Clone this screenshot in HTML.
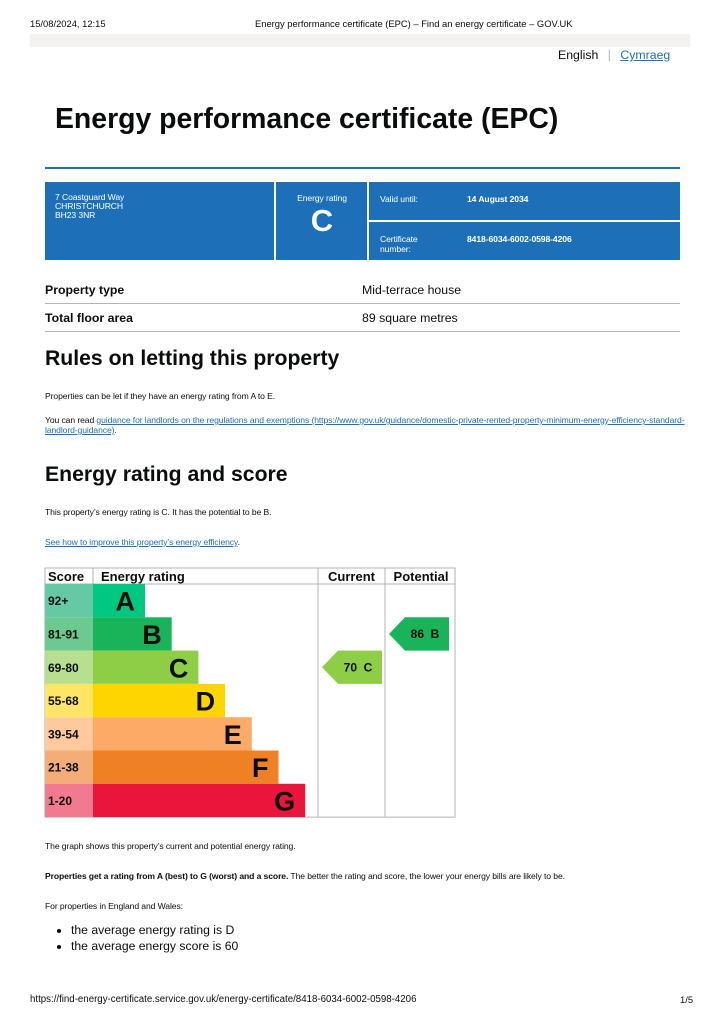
<!DOCTYPE html>
<html><head><meta charset="utf-8">
<style>
body{margin:0;width:724px;height:1024px;position:relative;background:#fff;font-family:"Liberation Sans",Arial,sans-serif;color:#0b0c0c;overflow:hidden}
.a{position:absolute;white-space:nowrap}
.s{font-size:8.6px;line-height:10px;letter-spacing:-0.1px}
a{color:#1d70b8}
</style></head><body>
<div class="a" style="left:30px;top:18px;font-size:9.4px">15/08/2024, 12:15</div>
<div class="a" style="left:255px;top:18px;font-size:9.4px">Energy performance certificate (EPC) – Find an energy certificate – GOV.UK</div>
<div class="a" style="left:30px;top:34px;width:660px;height:13px;background:#f3f2f1"></div>
<div class="a" style="left:558px;top:48px;font-size:12.3px">English <span style="color:#b1b4b6;margin:0 6px">|</span> <a href="#">Cymraeg</a></div>
<div class="a" style="left:55px;top:102px;font-size:28.4px;font-weight:bold;line-height:34px">Energy performance certificate (EPC)</div>
<div class="a" style="left:45px;top:167px;width:635px;height:2px;background:#1d70b8"></div>

<div class="a" style="left:45px;top:182px;width:635px;height:78px;background:#1d70b8;color:#fff">
 <div class="a s" style="left:10px;top:11px;line-height:9px">7 Coastguard Way<br>CHRISTCHURCH<br>BH23 3NR</div>
 <div class="a" style="left:229px;top:0;width:2px;height:78px;background:#fff"></div>
 <div class="a s" style="left:231px;width:92px;top:11px;text-align:center">Energy rating</div>
 <div class="a" style="left:231px;width:92px;top:21px;text-align:center;font-size:31px;font-weight:bold">C</div>
 <div class="a" style="left:322px;top:0;width:2px;height:78px;background:#fff"></div>
 <div class="a" style="left:324px;top:38px;width:311px;height:2px;background:#fff"></div>
 <div class="a s" style="left:335px;top:12px">Valid until:</div>
 <div class="a s" style="left:422px;top:12px;font-weight:bold">14 August 2034</div>
 <div class="a s" style="left:335px;top:52px">Certificate<br>number:</div>
 <div class="a s" style="left:422px;top:52px;font-weight:bold">8418-6034-6002-0598-4206</div>
</div>

<div class="a" style="left:45px;top:283px;font-size:12.3px;font-weight:bold">Property type</div>
<div class="a" style="left:362px;top:283px;font-size:12.3px">Mid-terrace house</div>
<div class="a" style="left:45px;top:303px;width:635px;height:1px;background:#b1b4b6"></div>
<div class="a" style="left:45px;top:311px;font-size:12.3px;font-weight:bold">Total floor area</div>
<div class="a" style="left:362px;top:311px;font-size:12.3px">89 square metres</div>
<div class="a" style="left:45px;top:331px;width:635px;height:1px;background:#b1b4b6"></div>

<div class="a" style="left:45px;top:347px;font-size:21.2px;font-weight:bold">Rules on letting this property</div>
<div class="a s" style="left:45px;top:391px">Properties can be let if they have an energy rating from A to E.</div>
<div class="a s" style="left:45px;top:415px;white-space:normal;width:645px">You can read <a href="#">guidance for landlords on the regulations and exemptions (https://www.gov.uk/guidance/domestic-private-rented-property-minimum-energy-efficiency-standard-landlord-guidance)</a>.</div>

<div class="a" style="left:45px;top:463px;font-size:21.2px;font-weight:bold">Energy rating and score</div>
<div class="a s" style="left:45px;top:507px">This property’s energy rating is C. It has the potential to be B.</div>
<div class="a s" style="left:45px;top:537px"><a href="#">See how to improve this property’s energy efficiency</a>.</div>

<svg class="a" style="left:0;top:0" width="724" height="1024" font-family="Liberation Sans, Arial, sans-serif">
<g id="chart"></g>
</svg>

<div class="a s" style="left:45px;top:841px">The graph shows this property’s current and potential energy rating.</div>
<div class="a s" style="left:45px;top:871px"><b>Properties get a rating from A (best) to G (worst) and a score.</b> The better the rating and score, the lower your energy bills are likely to be.</div>
<div class="a s" style="left:45px;top:901px">For properties in England and Wales:</div>
<ul class="a" style="left:30px;top:922px;margin:0;padding-left:41px;font-size:12.2px;line-height:16px">
<li>the average energy rating is D</li>
<li>the average energy score is 60</li>
</ul>
<div class="a" style="left:30px;top:994px;font-size:9.7px">https://find-energy-certificate.service.gov.uk/energy-certificate/8418-6034-6002-0598-4206</div>
<div class="a" style="left:680px;top:994px;font-size:9.4px">1/5</div>

<script>
const bands=["A","B","C","D","E","F","G"];
const scoreRanges=["92+","81-91","69-80","55-68","39-54","21-38","1-20"];
const bandColors=["#00c781","#19b459","#8dce46","#ffd500","#fcaa65","#ef8023","#e9153b"];
const scoreColors=["#65c9a5","#6cc98f","#b7df8f","#ffe566","#fdc99d","#f4ad77","#f27a8e"];
const currentScore=70, currentBand="C";
const potentialScore=86, potentialBand="B";

const NS="http://www.w3.org/2000/svg";
const g=document.getElementById('chart');
const X0=45,X1=455,Y0=568,HEAD=16,ROW=33.3,SC=93,CUR=318,POT=385;
const barEnd=i=>145+i*26.7;
const rowY=i=>Y0+HEAD+i*ROW;
function mk(t,a){const e=document.createElementNS(NS,t);for(const k in a)e.setAttribute(k,a[k]);g.appendChild(e);return e;}
let e=mk('rect',{x:X0,y:Y0,width:X1-X0,height:HEAD+7*ROW,fill:'#fff',stroke:'#b1b4b6','stroke-width':1});


mk('line',{x1:X0,x2:X1,y1:Y0+HEAD,y2:Y0+HEAD,stroke:'#b1b4b6'});
mk('line',{x1:CUR,x2:CUR,y1:Y0,y2:Y0+HEAD+7*ROW,stroke:'#b1b4b6'});
mk('line',{x1:POT,x2:POT,y1:Y0,y2:Y0+HEAD+7*ROW,stroke:'#b1b4b6'});
mk('line',{x1:SC,x2:SC,y1:Y0,y2:Y0+HEAD,stroke:'#b1b4b6'});
[["Score",48,'start'],["Energy rating",101,'start'],["Current",351.5,'middle'],["Potential",421,'middle']].forEach(h=>{
 const t=mk('text',{x:h[1],y:Y0+13,'font-size':13,'font-weight':'bold','text-anchor':h[2],fill:'#0b0c0c'});t.textContent=h[0];
 
 
});
bands.forEach((b,i)=>{
 const y=rowY(i);
 let r=mk('rect',{x:X0,y:y,width:SC-X0,height:ROW,fill:scoreColors[i]});
 
 
 let t=mk('text',{x:48,y:y+ROW/2+4.5,'font-size':12,'font-weight':'bold',fill:'#0b0c0c'});t.textContent=scoreRanges[i];
 let bar=mk('rect',{x:SC,y:y,width:barEnd(i)-SC,height:ROW,fill:bandColors[i]});
 
 
 t=mk('text',{x:barEnd(i)-10,y:y+ROW/2+10,'font-size':27,'font-weight':'bold','text-anchor':'end',fill:'#0b0c0c'});t.textContent=b;
});
function arrow(score,band,x0,name){
 const i=bands.indexOf(band),y=rowY(i),w=60,h=ROW;
 const p=mk('polygon',{points:`${x0},${y+h/2} ${x0+16},${y} ${x0+w},${y} ${x0+w},${y+h} ${x0+16},${y+h}`,fill:bandColors[i]});
 
 
 const t=mk('text',{x:x0+36,y:y+h/2+4,'font-size':12,'font-weight':'bold','text-anchor':'middle',fill:'#0b0c0c'});
 t.textContent=score+"  "+band;t.setAttribute('xml:space','preserve');t.style.whiteSpace='pre';
}
arrow(currentScore,currentBand,322,'current-rating-arrow');
arrow(potentialScore,potentialBand,389,'potential-rating-arrow');
</script>
</body></html>
